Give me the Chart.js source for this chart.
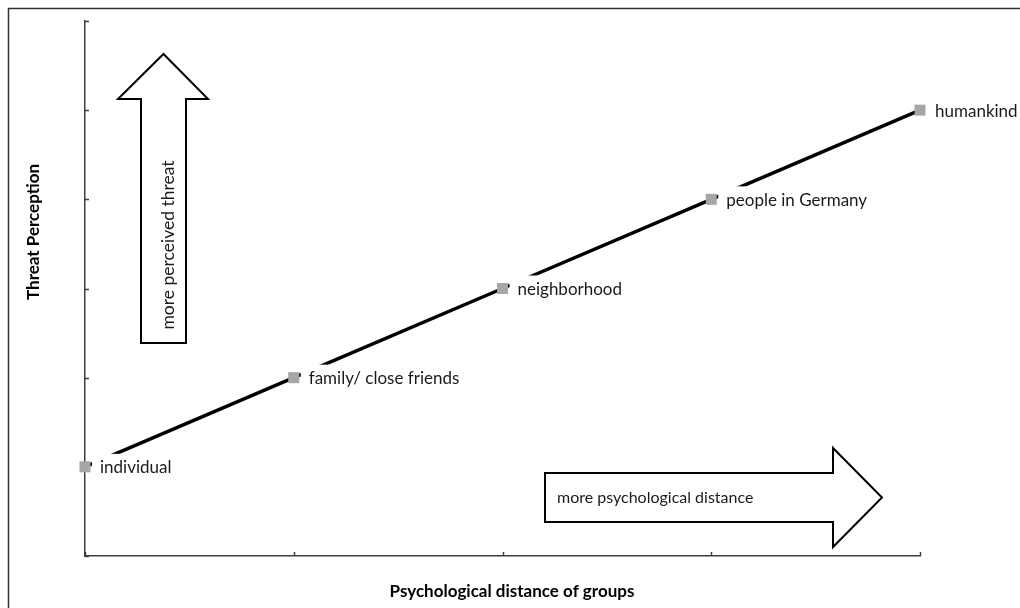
<!DOCTYPE html>
<html>
<head>
<meta charset="utf-8">
<script src="https://cdn.jsdelivr.net/npm/chart.js@4/dist/chart.umd.min.js"></script>
<style>
  html, body { margin: 0; padding: 0; background: #fff; }
  #wrap { width: 1020px; height: 608px; position: relative; }
</style>
</head>
<body>
<div id="wrap"><canvas id="grafico"></canvas></div>
<script>
// datos del gráfico
const grupos = ['individual', 'family/ close friends', 'neighborhood', 'people in Germany', 'humankind'];
const distancia = [0, 1, 2, 3, 4];
const amenaza = [1, 2, 3, 4, 5];
const ticksX = [0, 1, 2, 3, 4];
const ticksY = [0, 1, 2, 3, 4, 5, 6];

const tituloX = 'Psychological distance of groups';
const tituloY = 'Threat Perception';
const flechaArriba = 'more perceived threat';
const flechaDerecha = 'more psychological distance';

const fuente = 'Lato, "Open Sans", sans-serif';
const colorEje = '#3f3f3f';

// plugin para marco, ticks hacia dentro, títulos, etiquetas y flechas
const decoracion = {
    id: 'decoracion',
    beforeDraw(chart) {
        const ctx = chart.ctx;
        ctx.save();
        ctx.fillStyle = '#fff';
        ctx.fillRect(0, 0, chart.width, chart.height);
        ctx.strokeStyle = '#333';
        ctx.lineWidth = 1.5;
        ctx.beginPath();
        ctx.moveTo(8.5, chart.height);
        ctx.lineTo(8.5, 8.5);
        ctx.lineTo(chart.width, 8.5);
        ctx.stroke();
        ctx.restore();
    },
    afterDatasetsDraw(chart) {
        const ctx = chart.ctx;
        const x = chart.scales.x, y = chart.scales.y;
        const area = chart.chartArea;
        ctx.save();

        // ticks hacia dentro
        ctx.strokeStyle = colorEje;
        ctx.lineWidth = 1.5;
        ticksY.forEach(v => {
            const py = Math.round(y.getPixelForValue(v)) + 0.5;
            ctx.beginPath();
            ctx.moveTo(area.left, py);
            ctx.lineTo(area.left + 4, py);
            ctx.stroke();
        });
        ticksX.forEach(v => {
            const px = Math.round(x.getPixelForValue(v)) + 0.5;
            ctx.beginPath();
            ctx.moveTo(px, area.bottom);
            ctx.lineTo(px, area.bottom - 4);
            ctx.stroke();
        });

        // etiquetas de los puntos con fondo blanco
        ctx.font = '17px ' + fuente;
        ctx.textBaseline = 'middle';
        ctx.textAlign = 'left';
        const meta = chart.getDatasetMeta(0);
        meta.data.forEach((p, i) => {
            const w = ctx.measureText(grupos[i]).width;
            ctx.fillStyle = '#fff';
            ctx.fillRect(p.x + 7, p.y - 13, w + 12, 26);
            ctx.fillStyle = '#1a1a1a';
            ctx.fillText(grupos[i], p.x + 15, p.y + 1);
        });
        // volver a dibujar los marcadores encima
        meta.data.forEach(p => {
            ctx.fillStyle = '#a6a6a6';
            ctx.fillRect(p.x - 5.5, p.y - 5.5, 11, 11);
        });

        // flecha hacia arriba
        ctx.strokeStyle = '#000';
        ctx.lineWidth = 2;
        ctx.fillStyle = '#fff';
        ctx.beginPath();
        ctx.moveTo(141, 343);
        ctx.lineTo(141, 99);
        ctx.lineTo(118, 99);
        ctx.lineTo(163.5, 54);
        ctx.lineTo(208, 99);
        ctx.lineTo(186, 99);
        ctx.lineTo(186, 343);
        ctx.closePath();
        ctx.fill();
        ctx.stroke();
        ctx.save();
        ctx.translate(168, 245);
        ctx.rotate(-Math.PI / 2);
        ctx.fillStyle = '#1a1a1a';
        ctx.font = '17.5px ' + fuente;
        ctx.textAlign = 'center';
        ctx.fillText(flechaArriba, 0, 0);
        ctx.restore();

        // flecha hacia la derecha
        ctx.beginPath();
        ctx.moveTo(545, 473);
        ctx.lineTo(833, 473);
        ctx.lineTo(833, 448);
        ctx.lineTo(882, 497.5);
        ctx.lineTo(833, 547);
        ctx.lineTo(833, 522);
        ctx.lineTo(545, 522);
        ctx.closePath();
        ctx.fill();
        ctx.stroke();
        ctx.fillStyle = '#1a1a1a';
        ctx.font = '16px ' + fuente;
        ctx.textAlign = 'left';
        ctx.fillText(flechaDerecha, 557, 498);

        // títulos de los ejes
        ctx.font = 'bold 17px ' + fuente;
        ctx.fillStyle = '#000';
        ctx.textAlign = 'center';
        ctx.fillText(tituloX, 512, 592);
        ctx.save();
        ctx.translate(34, 232);
        ctx.rotate(-Math.PI / 2);
        ctx.fillText(tituloY, 0, 0);
        ctx.restore();

        ctx.restore();
    }
};

const ctx = document.getElementById('grafico').getContext('2d');

new Chart(ctx, {
    type: 'line',
    data: {
        datasets: [{
            data: distancia.map((d, i) => ({ x: d, y: amenaza[i] })),
            borderColor: '#000',
            borderWidth: 3.5,
            pointStyle: 'rect',
            pointRadius: 5,
            pointBackgroundColor: '#a6a6a6',
            pointBorderColor: '#a6a6a6',
            pointBorderWidth: 0,
            tension: 0,
            clip: false
        }]
    },
    options: {
        responsive: true,
        maintainAspectRatio: false,
        devicePixelRatio: 1,
        animation: false,
        layout: { padding: { left: 85, right: 100, top: 21, bottom: 52 } },
        plugins: {
            legend: { display: false },
            tooltip: { enabled: false },
            title: { display: false }
        },
        scales: {
            x: {
                type: 'linear',
                min: 0,
                max: 4,
                ticks: { display: false, stepSize: 1 },
                grid: { drawOnChartArea: false, drawTicks: false },
                border: { display: true, color: colorEje, width: 1.5 },
                afterFit(scale) { scale.height = 0; }
            },
            y: {
                type: 'linear',
                min: 0,
                max: 6,
                ticks: { display: false, stepSize: 1 },
                grid: { drawOnChartArea: false, drawTicks: false },
                border: { display: true, color: colorEje, width: 1.5 },
                afterFit(scale) { scale.width = 0; }
            }
        }
    },
    plugins: [decoracion]
});
</script>
</body>
</html>
